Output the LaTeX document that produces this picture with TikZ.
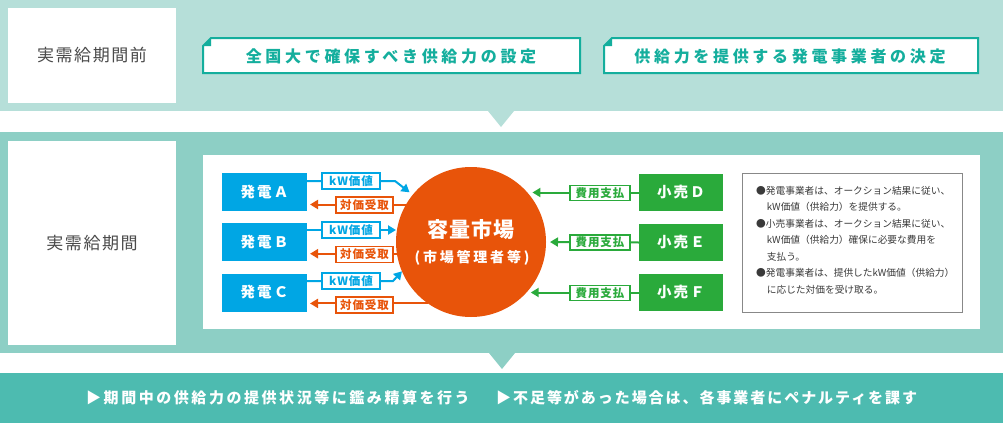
\documentclass[tikz,border=0pt]{standalone}
\usepackage{fontspec}
\setmainfont{Noto Sans CJK JP}
\newfontfamily\jp{Noto Sans CJK JP}
\usetikzlibrary{arrows.meta,calc}
\definecolor{bandA}{HTML}{B6DFD9}
\definecolor{bandB}{HTML}{8DCFC5}
\definecolor{bandC}{HTML}{4DBBB0}
\definecolor{tealline}{HTML}{14AE9D}
\definecolor{bluebox}{HTML}{00A6E4}
\definecolor{orangec}{HTML}{E8540A}
\definecolor{greenbox}{HTML}{2AAA3B}
\definecolor{graytxt}{HTML}{4A4A4A}
\definecolor{notetxt}{HTML}{3A3A3A}
\definecolor{noteframe}{HTML}{888888}
\tikzset{
  periodbox/.style={fill=white, draw=none, inner sep=0pt, outer sep=0pt, text=graytxt,
    font=\jp\fontsize{17}{20}\selectfont\addfontfeature{LetterSpace=9}},
  calltext/.style={text=tealline, inner sep=0pt,
    font=\jp\bfseries\fontsize{16}{19}\selectfont\addfontfeature{LetterSpace=23}},
  genbox/.style={fill=bluebox, text=white, minimum width=85pt, minimum height=38pt, inner sep=0pt, outer sep=0pt,
    font=\jp\bfseries\fontsize{14.5}{17}\selectfont\addfontfeature{LetterSpace=15}},
  retbox/.style={fill=greenbox, text=white, minimum width=84pt, minimum height=37pt, inner sep=0pt, outer sep=0pt,
    font=\jp\bfseries\fontsize{14.5}{17}\selectfont\addfontfeature{LetterSpace=15}},
  lblbox/.style={fill=white, draw=#1, line width=1.4pt, text=#1, inner sep=0pt, minimum height=16pt,
    font=\jp\bfseries\fontsize{11.5}{13}\selectfont\addfontfeature{LetterSpace=8}},
  flowarrow/.style={draw=#1, line width=2pt, -{Triangle[length=8pt,width=9pt]}},
  bottomtext/.style={text=white, inner sep=0pt, anchor=west,
    font=\jp\bfseries\fontsize{15}{18}\selectfont\addfontfeature{LetterSpace=#1}},
}
\begin{document}
\begin{tikzpicture}[x=1pt,y=-1pt]
\useasboundingbox (0,0) rectangle (1003,423);
\fill[white] (0,0) rectangle (1003,423);
% bands
\fill[bandA] (0,0) rectangle (1003,111);
\fill[bandA] (488,111) -- (514,111) -- (501,127) -- cycle;
\fill[bandB] (0,132) rectangle (1003,353);
\fill[bandB] (489,353) -- (515,353) -- (502,369) -- cycle;
\fill[bandC] (0,373) rectangle (1003,423);

% period labels
\node[periodbox, minimum width=168pt, minimum height=95pt] (pre) at (92,55.5) {実需給期間前};
\node[periodbox, minimum width=168pt, minimum height=204pt] (dur) at (92,243) {実需給期間};

% callouts
\foreach \xa/\xb/\nm in {203/580/callA, 604/978/callB}{
  \path[fill=white, draw=tealline, line width=2pt] (\xa+8,38) -- (\xb,38) -- (\xb,73) -- (\xa,73) -- (\xa,46) -- cycle;
  \fill[tealline] (\xa+8,38) -- (\xa+8,46) -- (\xa,46) -- cycle;
}
\node[calltext] (tA) at (391,56) {全国大で確保すべき供給力の設定};
\node[calltext] (tB) at (790,56) {供給力を提供する発電事業者の決定};

% inner panel
\fill[white] (203,155) rectangle (980,329);

% generators
\node[genbox] (gA) at (264.5,192) {発電Ａ};
\node[genbox] (gB) at (264.5,242) {発電Ｂ};
\node[genbox] (gC) at (264.5,292.5) {発電Ｃ};

% market
\node[circle, fill=orangec, minimum size=150pt, inner sep=0pt, outer sep=0pt] (mkt) at (471,242) {};
\node[text=white, inner sep=0pt, font=\jp\bfseries\fontsize{21}{24}\selectfont\addfontfeature{LetterSpace=6}] (mktA) at (471,230) {容量市場};
\node[text=white, inner sep=0pt, font=\jp\bfseries\fontsize{14}{17}\selectfont\addfontfeature{LetterSpace=20}] (mktB) at (472,258) {(市場管理者等)};

% retailers
\node[retbox] (rD) at (681,192.5) {小売Ｄ};
\node[retbox] (rE) at (681,242.5) {小売Ｅ};
\node[retbox] (rF) at (681,292.5) {小売Ｆ};

% blue arrows (kW value)
\draw[flowarrow=bluebox, shorten >=4pt] (gA.east |- 0,181) -- (395,181) -- (mkt.141);
\draw[flowarrow=bluebox] (gB.east |- 0,230) -- (mkt.west |- 0,230);
\draw[flowarrow=bluebox] (gC.east |- 0,281) -- (393,281) -- (mkt.203.5);
% orange arrows (payment)
\draw[flowarrow=orangec, shorten >=3pt] (mkt.150.3) -- (mkt.150.3 -| gA.east);
\draw[flowarrow=orangec, shorten >=3pt] (mkt.189.2) -- (mkt.189.2 -| gB.east);
\draw[flowarrow=orangec, shorten >=3pt] (mkt.235.9) -- (mkt.235.9 -| gC.east);
% green arrows
\draw[flowarrow=greenbox, shorten >=4pt] (rD.west) -- (rD.west -| mkt.40.7);
\draw[flowarrow=greenbox, shorten >=4pt] (rE.west) -- (mkt.east);
\draw[flowarrow=greenbox, shorten >=4pt] (rF.west) -- (rF.west -| mkt.-42.8);

% labels
\node[lblbox=bluebox, minimum width=58pt] (kA) at (351,181) {kW価値};
\node[lblbox=bluebox, minimum width=58pt] (kB) at (351,230) {kW価値};
\node[lblbox=bluebox, minimum width=58pt] (kC) at (351,281) {kW価値};
\node[lblbox=orangec, minimum width=57pt] (pA) at (364.5,205) {対価受取};
\node[lblbox=orangec, minimum width=57pt] (pB) at (364.5,254.5) {対価受取};
\node[lblbox=orangec, minimum width=57pt] (pC) at (364.5,305) {対価受取};
\node[lblbox=greenbox, minimum width=60pt, minimum height=15pt] (fD) at (600,193) {費用支払};
\node[lblbox=greenbox, minimum width=60pt, minimum height=15pt] (fE) at (600,242.5) {費用支払};
\node[lblbox=greenbox, minimum width=60pt, minimum height=15pt] (fF) at (600,293) {費用支払};

% note box
\node[draw=noteframe, line width=1pt, fill=white, minimum width=220pt, minimum height=139pt, inner sep=0pt] (note) at (852,242.5) {};
\node[anchor=north west, align=left, inner sep=0pt, text=notetxt,
  font=\jp\fontsize{9.7}{16.5}\selectfont] (notetext) at (756,186)
{●発電事業者は、オークション結果に従い、\\
\hspace*{1.1em}kW価値（供給力）を提供する。\\
●小売事業者は、オークション結果に従い、\\
\hspace*{1.1em}kW価値（供給力）確保に必要な費用を\\
\hspace*{1.1em}支払う。\\
●発電事業者は、提供したkW価値（供給力）\\
\hspace*{1.1em}に応じた対価を受け取る。};

% bottom band texts
\node[bottomtext=17] (bt1) at (86,398) {▶期間中の供給力の提供状況等に鑑み精算を行う};
\node[bottomtext=13] (bt2) at (496,398) {▶不足等があった場合は、各事業者にペナルティを課す};
\end{tikzpicture}
\end{document}
